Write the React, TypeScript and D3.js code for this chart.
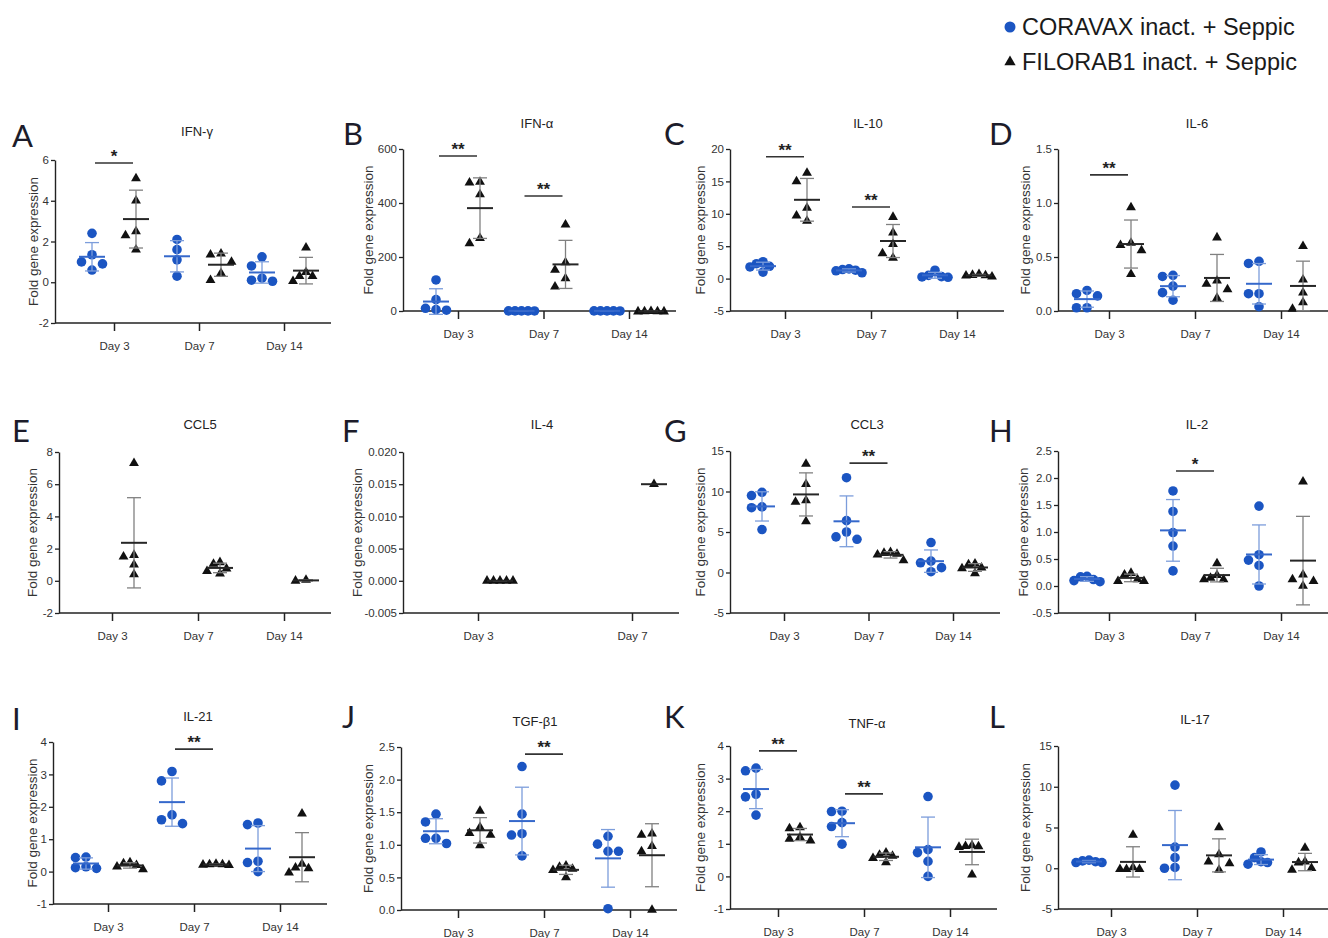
import React, { useEffect, useRef } from "react";
import * as d3 from "d3";

// ---------- categories ----------
const days = ["Day 3", "Day 7", "Day 14"];
const daysIL4 = ["Day 3", "Day 7"];
const seriesNames = ["CORAVAX inact. + Seppic", "FILORAB1 inact. + Seppic"];

// ---------- A: IFN-γ ----------
const ifnGCor = [[2.4, 1.35, 1.0, 0.9, 0.6], [2.1, 1.6, 1.1, 0.3], [1.25, 0.8, 0.2, 0.1, 0.05]];
const ifnGFil = [[5.1, 4.0, 2.5, 2.3, 1.6], [1.4, 1.35, 1.0, 0.45, 0.1], [1.7, 0.5, 0.3, 0.3, 0.05]];
const ifnGTicks = [-2, 0, 2, 4, 6];
const ifnGSig = [{ day: "Day 3", y: 5.85, label: "*" }];

// ---------- B: IFN-α ----------
const ifnACor = [[115, 42, 10, 5, 3], [0.5, 0.3, 0.4, 0.2, 0.6], [0.5, 0.4, 0.3, 0.2, 0.6]];
const ifnAFil = [[478, 475, 432, 270, 250], [320, 180, 152, 121, 90], [-1.5, -2, -1, -2, -1.5]];
const ifnATicks = [0, 200, 400, 600];
const ifnASig = [{ day: "Day 3", y: 574, label: "**" }, { day: "Day 7", y: 426, label: "**" }];

// ---------- C: IL-10 ----------
const il10Cor = [[2.6, 2.3, 1.9, 1.8, 1.0], [1.5, 1.4, 1.3, 1.2, 0.9], [1.3, 0.5, 0.3, 0.25, 0.2]];
const il10Fil = [[16.3, 15.0, 10.9, 9.7, 8.9], [9.5, 7.1, 5.3, 3.9, 3.2], [0.7, 0.55, 0.5, 0.45, 0.3]];
const il10Ticks = [-5, 0, 5, 10, 15, 20];
const il10Sig = [{ day: "Day 3", y: 18.8, label: "**" }, { day: "Day 7", y: 11.05, label: "**" }];

// ---------- D: IL-6 ----------
const il6Cor = [[0.19, 0.16, 0.14, 0.03, 0.03], [0.33, 0.32, 0.23, 0.17, 0.1], [0.46, 0.44, 0.16, 0.16, 0.04]];
const il6Fil = [[0.96, 0.63, 0.61, 0.56, 0.34], [0.68, 0.28, 0.25, 0.2, 0.12], [0.6, 0.29, 0.17, 0.08, 0.02]];
const il6Ticks = [0, 0.5, 1.0, 1.5];
const il6Sig = [{ day: "Day 3", y: 1.26, label: "**" }];

// ---------- E: CCL5 ----------
const ccl5Cor: number[][] = [[], [], []];
const ccl5Fil = [[7.3, 1.6, 1.5, 1.0, 0.4], [1.15, 1.05, 0.75, 0.6, 0.45], [0.05, 0.0]];
const ccl5Ticks = [-2, 0, 2, 4, 6, 8];

// ---------- F: IL-4 ----------
const il4Cor: number[][] = [[], []];
const il4Fil = [[0, 0, 0, 0, 0], [0.015]];
const il4Ticks = [-0.005, 0, 0.005, 0.01, 0.015, 0.02];

// ---------- G: CCL3 ----------
const ccl3Cor = [[9.9, 9.5, 8.1, 8.0, 5.3], [11.7, 6.4, 5.0, 4.4, 4.1], [3.7, 1.4, 1.2, 0.6, 0.1]];
const ccl3Fil = [[13.4, 10.9, 8.9, 8.7, 6.3], [2.5, 2.4, 2.3, 2.2, 1.5], [1.1, 1.0, 0.6, 0.5, -0.1]];
const ccl3Ticks = [-5, 0, 5, 10, 15];
const ccl3Sig = [{ day: "Day 7", y: 13.5, label: "**" }];

// ---------- H: IL-2 ----------
const il2Cor = [[0.18, 0.17, 0.12, 0.1, 0.08], [1.76, 1.38, 0.99, 0.74, 0.28], [1.48, 0.58, 0.48, 0.38, 0.0]];
const il2Fil = [[0.24, 0.21, 0.12, 0.09, 0.09], [0.42, 0.2, 0.15, 0.12, 0.12], [1.93, 0.21, 0.12, 0.09, 0.0]];
const il2Ticks = [-0.5, 0, 0.5, 1.0, 1.5, 2.0, 2.5];
const il2Sig = [{ day: "Day 7", y: 2.13, label: "*" }];

// ---------- I: IL-21 ----------
const il21Cor = [[0.45, 0.43, 0.15, 0.12, 0.1], [3.09, 2.8, 1.75, 1.6, 1.48], [1.5, 1.45, 0.32, 0.28, 0.0]];
const il21Fil = [[0.28, 0.25, 0.2, 0.15, 0.07], [0.24, 0.22, 0.22, 0.21, 0.2], [1.79, 0.24, 0.12, 0.1, -0.03]];
const il21Ticks = [-1, 0, 1, 2, 3, 4];
const il21Sig = [{ day: "Day 7", y: 3.78, label: "**" }];

// ---------- J: TGF-β1 ----------
const tgfCor = [[1.47, 1.35, 1.1, 1.1, 1.02], [2.2, 1.47, 1.17, 1.15, 0.83], [1.13, 1.01, 0.9, 0.9, 0.02]];
const tgfFil = [[1.52, 1.27, 1.18, 1.15, 0.99], [0.68, 0.66, 0.63, 0.61, 0.5], [1.17, 1.15, 0.98, 0.9, 0.0]];
const tgfTicks = [0, 0.5, 1.0, 1.5, 2.0, 2.5];
const tgfSig = [{ day: "Day 7", y: 2.39, label: "**" }];

// ---------- K: TNF-α ----------
const tnfCor = [[3.32, 3.24, 2.52, 2.44, 1.88], [2.0, 1.99, 1.65, 1.53, 0.99], [2.45, 0.82, 0.73, 0.46, 0.0]];
const tnfFil = [[1.5, 1.47, 1.2, 1.15, 1.1], [0.73, 0.66, 0.63, 0.56, 0.43], [0.95, 0.93, 0.92, 0.9, 0.05]];
const tnfTicks = [-1, 0, 1, 2, 3, 4];
const tnfSig = [{ day: "Day 3", y: 3.85, label: "**" }, { day: "Day 7", y: 2.53, label: "**" }];

// ---------- L: IL-17 ----------
const il17Cor = [[1.0, 0.9, 0.8, 0.7, 0.7], [10.2, 2.6, 1.3, 0.1, 0.0], [2.0, 1.3, 0.8, 0.7, 0.5]];
const il17Fil = [[4.1, 0.1, -0.1, -0.1, -0.1], [5.0, 1.7, 0.8, 0.6, -0.2], [2.5, 0.8, 0.7, 0.0, -0.2]];
const il17Ticks = [-5, 0, 5, 10, 15];

type Sig = { day: string; y: number; label: string };
type Panel = {
  letter: string; title: string; cats: string[]; cor: number[][]; fil: number[][];
  ticks: number[]; fmt: string; sig: Sig[];
};

const panels: Panel[] = [
  { letter: "A", title: "IFN-γ", cats: days, cor: ifnGCor, fil: ifnGFil, ticks: ifnGTicks, fmt: "d", sig: ifnGSig },
  { letter: "B", title: "IFN-α", cats: days, cor: ifnACor, fil: ifnAFil, ticks: ifnATicks, fmt: "d", sig: ifnASig },
  { letter: "C", title: "IL-10", cats: days, cor: il10Cor, fil: il10Fil, ticks: il10Ticks, fmt: "d", sig: il10Sig },
  { letter: "D", title: "IL-6", cats: days, cor: il6Cor, fil: il6Fil, ticks: il6Ticks, fmt: ".1f", sig: il6Sig },
  { letter: "E", title: "CCL5", cats: days, cor: ccl5Cor, fil: ccl5Fil, ticks: ccl5Ticks, fmt: "d", sig: [] },
  { letter: "F", title: "IL-4", cats: daysIL4, cor: il4Cor, fil: il4Fil, ticks: il4Ticks, fmt: ".3f", sig: [] },
  { letter: "G", title: "CCL3", cats: days, cor: ccl3Cor, fil: ccl3Fil, ticks: ccl3Ticks, fmt: "d", sig: ccl3Sig },
  { letter: "H", title: "IL-2", cats: days, cor: il2Cor, fil: il2Fil, ticks: il2Ticks, fmt: ".1f", sig: il2Sig },
  { letter: "I", title: "IL-21", cats: days, cor: il21Cor, fil: il21Fil, ticks: il21Ticks, fmt: "d", sig: il21Sig },
  { letter: "J", title: "TGF-β1", cats: days, cor: tgfCor, fil: tgfFil, ticks: tgfTicks, fmt: ".1f", sig: tgfSig },
  { letter: "K", title: "TNF-α", cats: days, cor: tnfCor, fil: tnfFil, ticks: tnfTicks, fmt: "d", sig: tnfSig },
  { letter: "L", title: "IL-17", cats: days, cor: il17Cor, fil: il17Fil, ticks: il17Ticks, fmt: "d", sig: [] },
];

// ---------- layout (pixels) ----------
type Layout = {
  x0: number; yTop: number; yBot: number; first: number; step: number;
  titleX: number; titleY: number; labX: number; letX: number; letY: number;
};
const layouts: Layout[] = [
  { x0: 55, yTop: 160, yBot: 323, first: 59, step: 85, titleX: 197, titleY: 136, labX: 33, letX: 12, letY: 147 },
  { x0: 403, yTop: 149, yBot: 311, first: 55, step: 85.5, titleX: 537, titleY: 128, labX: 368, letX: 343, letY: 145 },
  { x0: 730, yTop: 149, yBot: 311, first: 55, step: 86, titleX: 868, titleY: 128, labX: 700, letX: 664, letY: 145 },
  { x0: 1058, yTop: 149, yBot: 311, first: 51, step: 86, titleX: 1197, titleY: 128, labX: 1025, letX: 989, letY: 145 },
  { x0: 59, yTop: 452, yBot: 613, first: 53, step: 86, titleX: 200, titleY: 429, labX: 32, letX: 12, letY: 442 },
  { x0: 403, yTop: 452, yBot: 613, first: 75, step: 154, titleX: 542, titleY: 429, labX: 357, letX: 342, letY: 442 },
  { x0: 730, yTop: 451, yBot: 613, first: 54, step: 84.5, titleX: 867, titleY: 429, labX: 700, letX: 664, letY: 442 },
  { x0: 1058, yTop: 451, yBot: 613, first: 51, step: 86, titleX: 1197, titleY: 429, labX: 1023, letX: 989, letY: 442 },
  { x0: 53, yTop: 742, yBot: 904, first: 55, step: 86, titleX: 198, titleY: 721, labX: 32, letX: 12, letY: 730 },
  { x0: 401, yTop: 747, yBot: 910, first: 57, step: 86, titleX: 535, titleY: 726, labX: 368, letX: 342, letY: 728 },
  { x0: 730, yTop: 746, yBot: 909, first: 48, step: 86, titleX: 867, titleY: 728, labX: 700, letX: 664, letY: 728 },
  { x0: 1058, yTop: 746, yBot: 909, first: 53, step: 86, titleX: 1195, titleY: 724, labX: 1025, letX: 989, letY: 728 },
];

const BLUE = "#1b55c2";
const BLUE_MEAN = "#3568cb";
const BLUE_WHISK = "#7c9ddb";
const BLACK = "#111";
const BLACK_MEAN = "#262626";
const BLACK_WHISK = "#808080";
const FONT = "'Liberation Sans', Arial, sans-serif";

function swarm(vals: number[], y: (v: number) => number): number[] {
  const d = 10.5, r = 9.5, maxHalf = 13;
  const idx = vals.map((_, i) => i).sort((a, b) => vals[b] - vals[a]);
  const placed: { x: number; y: number }[] = [];
  const offs = new Array(vals.length).fill(0);
  const cands = [0, -1, 1, -2, 2, -3, 3, -4, 4].map((k) => k * d);
  for (const i of idx) {
    const py = y(vals[i]);
    let best = 0, bestScore = -Infinity;
    for (const c of cands) {
      const m = placed.length ? d3.min(placed, (p) => Math.hypot(p.x - c, p.y - py))! : Infinity;
      if (m >= r) { best = c; break; }
      if (m > bestScore) { bestScore = m; best = c; }
    }
    offs[i] = best;
    placed.push({ x: best, y: py });
  }
  const maxAbs = d3.max(offs, (o) => Math.abs(o)) || 0;
  return maxAbs > maxHalf ? offs.map((o) => (o * maxHalf) / maxAbs) : offs;
}

function fmtTick(f: string) {
  const fm = d3.format(f);
  return (v: number) => fm(v).replace("\u2212", "-");
}

function drawPanel(svg: d3.Selection<SVGSVGElement, unknown, null, undefined>, p: Panel, L: Layout) {
  const g = svg.append("g").attr("font-family", FONT);
  const lo = p.ticks[0], hi = p.ticks[p.ticks.length - 1];
  const y = d3.scaleLinear().domain([lo, hi]).range([L.yBot, L.yTop]);
  const xStart = L.x0 + L.first;
  const xLast = xStart + L.step * (p.cats.length - 1);
  const x = d3.scalePoint<string>().domain(p.cats).range([xStart, xLast]);
  const xEnd = xLast + 47;

  // panel letter
  g.append("text").attr("x", L.letX).attr("y", L.letY).text(p.letter)
    .attr("font-family", "Lato, 'Open Sans', sans-serif").attr("font-size", 31).attr("fill", "#1c1c2a");

  // title
  g.append("text").attr("x", L.titleX).attr("y", L.titleY).attr("text-anchor", "middle")
    .attr("font-size", 13).attr("fill", "#222").text(p.title);

  // y axis
  const yAxis = d3.axisLeft(y).tickValues(p.ticks).tickFormat(fmtTick(p.fmt) as any).tickSize(4).tickSizeOuter(0).tickPadding(2);
  const ya = g.append("g").attr("transform", `translate(${L.x0},0)`).call(yAxis);
  ya.select(".domain").attr("stroke", "#222").attr("stroke-width", 1.4);
  ya.selectAll(".tick line").attr("stroke", "#222").attr("stroke-width", 1.3);
  ya.selectAll(".tick text").attr("font-size", 11.5).attr("fill", "#333").attr("font-family", FONT);

  // y label
  const midY = (L.yTop + L.yBot) / 2;
  g.append("text").attr("transform", `translate(${L.labX},${midY}) rotate(-90)`)
    .attr("text-anchor", "middle").attr("dominant-baseline", "central")
    .attr("font-size", 13.5).attr("fill", "#333").text("Fold gene expression");

  // x axis
  g.append("line").attr("x1", L.x0).attr("x2", xEnd).attr("y1", L.yBot).attr("y2", L.yBot)
    .attr("stroke", "#222").attr("stroke-width", 1.4);
  const xAxis = d3.axisBottom(x).tickSize(8).tickSizeOuter(0).tickPadding(11);
  const xa = g.append("g").attr("transform", `translate(0,${L.yBot})`).call(xAxis);
  xa.select(".domain").remove();
  xa.selectAll(".tick line").attr("stroke", "#222").attr("stroke-width", 1.5);
  xa.selectAll(".tick text").attr("font-size", 11.5).attr("fill", "#333").attr("font-family", FONT);

  const series = [
    { data: p.cor, off: -22, color: BLUE, mean: BLUE_MEAN, whisk: BLUE_WHISK, shape: "circle" },
    { data: p.fil, off: 22, color: BLACK, mean: BLACK_MEAN, whisk: BLACK_WHISK, shape: "triangle" },
  ];
  const tri = d3.symbol().type(d3.symbolTriangle).size(42)();

  series.forEach((s) => {
    s.data.forEach((vals, k) => {
      if (!vals.length) return;
      const cx = x(p.cats[k])! + s.off;
      const offs = swarm(vals, y);
      const pg = g.append("g");
      vals.forEach((v, i) => {
        if (s.shape === "circle") {
          pg.append("circle").attr("cx", cx + offs[i]).attr("cy", y(v)).attr("r", 4.8).attr("fill", s.color);
        } else {
          pg.append("path").attr("d", tri).attr("transform", `translate(${cx + offs[i]},${y(v)})`).attr("fill", s.color);
        }
      });
      const m = d3.mean(vals)!;
      if (vals.length > 1) {
        const sd = d3.deviation(vals) || 0;
        const y1 = y(m + sd), y2 = y(m - sd);
        pg.append("line").attr("x1", cx).attr("x2", cx).attr("y1", y1).attr("y2", y2).attr("stroke", s.whisk).attr("stroke-width", 1.3);
        [y1, y2].forEach((yy) =>
          pg.append("line").attr("x1", cx - 7).attr("x2", cx + 7).attr("y1", yy).attr("y2", yy).attr("stroke", s.whisk).attr("stroke-width", 1.3));
      }
      pg.append("line").attr("x1", cx - 13).attr("x2", cx + 13).attr("y1", y(m)).attr("y2", y(m)).attr("stroke", s.mean).attr("stroke-width", 2);
    });
  });

  // significance
  p.sig.forEach((s) => {
    const cx = x(s.day)!;
    const yy = y(s.y);
    g.append("line").attr("x1", cx - 19).attr("x2", cx + 19).attr("y1", yy).attr("y2", yy).attr("stroke", "#333").attr("stroke-width", 1.6);
    g.append("text").attr("x", cx).attr("y", yy - 1).attr("text-anchor", "middle").attr("font-size", 17)
      .attr("font-weight", "bold").attr("fill", "#222").text(s.label);
  });
}

export default function App() {
  const ref = useRef<SVGSVGElement>(null);
  useEffect(() => {
    if (!ref.current) return;
    const svg = d3.select(ref.current);
    svg.selectAll("*").remove();

    // legend
    const lg = svg.append("g").attr("font-family", FONT);
    lg.append("circle").attr("cx", 1010).attr("cy", 27).attr("r", 5.5).attr("fill", BLUE);
    lg.append("text").attr("x", 1022).attr("y", 35).attr("font-size", 23.5).attr("fill", "#1a1a1a").text(seriesNames[0]);
    lg.append("path").attr("d", d3.symbol().type(d3.symbolTriangle).size(55)()).attr("transform", "translate(1010,62)").attr("fill", BLACK);
    lg.append("text").attr("x", 1022).attr("y", 70).attr("font-size", 23.5).attr("fill", "#1a1a1a").text(seriesNames[1]);

    panels.forEach((p, i) => drawPanel(svg as any, p, layouts[i]));
  }, []);
  return (
    <svg ref={ref} width={1328} height={938}
      style={{ position: "absolute", left: 0, top: 0, background: "#fff" }} />
  );
}
